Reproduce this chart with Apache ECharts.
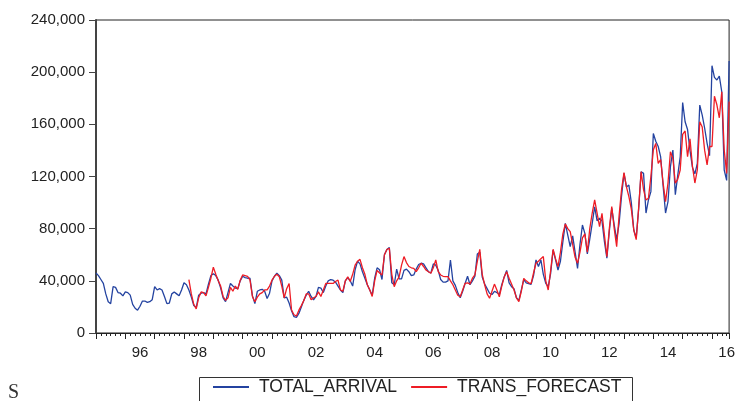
<!DOCTYPE html>
<html>
<head>
<meta charset="utf-8">
<script src="https://cdn.jsdelivr.net/npm/echarts@6/dist/echarts.min.js"></script>
<style>
  html, body { margin: 0; padding: 0; background: #fff; }
  #main { width: 738px; height: 401px; }
</style>
</head>
<body>
<div id="main"></div>
<script>
// monthly series, first month = 1995M01
const startYear = 1995;
const totalArrival = [
  46000, 44000, 41000, 38000, 30000, 24000, 22500, 35500, 35000, 31000, 30500, 28500,
  31500, 31000, 29000, 22000, 19000, 17500, 20500, 24500, 24500, 23500, 24000, 25500,
  35500, 33000, 34000, 33000, 28000, 22500, 23000, 30000, 31500, 30000, 28500, 33000,
  38500, 37000, 33000, 27500, 21000, 19500, 29000, 30500, 31000, 30000, 37500, 44000,
  45500, 44000, 40500, 34500, 27000, 24000, 31000, 38000, 36000, 34500, 34000, 40000,
  43500, 42500, 42000, 42000, 28500, 22500, 32000, 33000, 33500, 32000, 26500, 30500,
  40000, 43500, 45800, 44000, 40500, 27000, 27500, 23000, 17000, 12500, 12000, 15000,
  20000, 25000, 29000, 32000, 28000, 25500, 28000, 35000, 34500, 31000, 36000, 40000,
  41000, 40500, 39000, 36000, 33000, 31000, 40000, 42500, 40000, 36000, 48500, 55000,
  53000, 47000, 42000, 37000, 33000, 29000, 42000, 50000, 48500, 41000, 60000, 64000,
  65500, 38500, 37000, 49000, 41500, 41500, 48000, 49000, 47000, 44000, 44500, 49000,
  52500, 53500, 53000, 50000, 47000, 46000, 53000, 52000, 48000, 41000, 39000, 39000,
  40000, 56000, 40000, 36500, 31000, 27000, 32000, 38000, 43500, 37000, 40000, 43500,
  60500, 62000, 43000, 37500, 34000, 30500, 29500, 32000, 31000, 29500, 37000, 43000,
  48000, 38500, 35500, 34000, 27000, 25000, 33000, 41000, 38500, 37800, 37300, 44000,
  56000, 51000, 56000, 45000, 38000, 35500, 45800, 63600, 56000, 48300, 55000, 70000,
  84000, 75000, 66200, 74400, 62000, 49600, 68000, 82800, 76400, 60600, 72000, 84000,
  96800, 86000, 88000, 86000, 70000, 57300, 78000, 95600, 83000, 71600, 84000, 105000,
  122400, 112000, 113500, 100000, 79000, 73000, 95000, 123700, 122400, 92000, 102000, 108400,
  153000, 147000, 143000, 135000, 113000, 92000, 100700, 127500, 140300, 106000, 121000, 135000,
  176700, 162000, 156000, 140000, 127000, 122000, 130000, 174800, 167100, 157000, 145400, 136000,
  205000, 196000, 194000, 197000, 185000, 125000, 117000, 208500
];
// forecast starts at 1998M03 (index 38)
const forecastStart = 38;
const transForecast = [
  41000, 30000, 22000, 18500, 27000, 31500, 31000, 28500, 35000, 42000,
  50500, 45000, 40000, 36000, 28000, 25000, 27000, 35000, 32000, 36000, 33500, 40500,
  44500, 44000, 43500, 40500, 28000, 24000, 27500, 30000, 31000, 33000, 33000, 36000,
  40500, 43500, 45000, 43000, 36000, 27000, 34000, 38000, 17600, 14000, 13000, 17500,
  21000, 24800, 30000, 30000, 25500, 27000, 28000, 31500, 28000, 33000, 38000, 38000,
  38000, 38000, 39500, 40600, 33000, 32000, 40000, 43000, 39500, 45000, 52000, 55000,
  56500, 50000, 45000, 37000, 33000, 28000, 40000, 48000, 46000, 44500, 60000, 64000,
  65000, 45000, 35500, 40000, 43000, 52000, 58600, 54000, 51000, 50000, 49600, 47000,
  50000, 53500, 51000, 48300, 47000, 45800, 50000, 56000, 47000, 44500, 43500, 43200,
  43200, 40000, 37000, 33000, 29000, 27800, 33000, 38100, 38500, 37500, 42000, 44500,
  55000, 64200, 45000, 37000, 30000, 26600, 32000, 37500, 33000, 27800, 36000, 43000,
  47000, 42000, 37500, 33000, 27000, 24000, 32000, 41900, 40000, 38500, 37800, 46000,
  53500, 55000, 57000, 58600, 40000, 33000, 48000, 64200, 57000, 50900, 62000, 76000,
  83600, 80000, 77700, 68000, 58000, 53500, 62000, 73000, 76000, 62000, 80000, 92000,
  102000, 92000, 81500, 91800, 75000, 58600, 80000, 97000, 80000, 66200, 90000, 110000,
  123000, 112000, 104600, 95000, 79000, 71600, 96000, 123700, 110000, 102000, 103300, 120000,
  140300, 145400, 130000, 133000, 115000, 100700, 115000, 139000, 134000, 114800, 118000, 125000,
  152300, 154900, 135200, 148900, 128000, 115000, 125000, 162000, 157900, 140000, 128900, 143100,
  143000, 181500, 175000, 165000, 185000, 140300, 122400, 177400
];
const yTicks = [0, 40000, 80000, 120000, 160000, 200000, 240000];
const seriesNames = ['TOTAL_ARRIVAL', 'TRANS_FORECAST'];

const xOf = i => startYear + i / 12;
const xMax = xOf(totalArrival.length - 1);
const arrivalData = totalArrival.map((v, i) => [xOf(i), v]);
const forecastData = transForecast.map((v, i) => [xOf(i + forecastStart), v]);

const font = '"Liberation Sans", Arial, sans-serif';
const textColor = '#222';

const chart = echarts.init(document.getElementById('main'));
chart.setOption({
  animation: false,
  grid: {
    left: 96, right: 4, top: 20, bottom: 68,
    show: true, borderColor: '#222', borderWidth: 1
  },
  xAxis: [{
    // labels under the middle of every second year
    type: 'value', min: startYear, max: xMax, interval: 0.5,
    axisLine: { show: true, lineStyle: { color: '#222', width: 1 } },
    axisTick: { show: false },
    splitLine: { show: false },
    axisLabel: {
      showMinLabel: false, showMaxLabel: false,
      margin: 12, color: textColor, fontFamily: font, fontSize: 15,
      formatter: v => {
        const y = Math.floor(v);
        if (v - y === 0.5 && y % 2 === 0) return String(y).slice(2);
        return '';
      }
    }
  }, {
    // year ticks plus minor ticks
    type: 'value', min: startYear, max: xMax, interval: 1, position: 'bottom',
    axisLine: { show: false },
    axisTick: { show: true, inside: false, length: 6, lineStyle: { color: '#222' } },
    minorTick: { show: true, splitNumber: 6, length: 3, lineStyle: { color: '#222' } },
    axisLabel: { show: false },
    splitLine: { show: false }
  }],
  yAxis: {
    type: 'value', min: 0, max: 240000, interval: 40000,
    axisLine: { show: true, lineStyle: { color: '#444', width: 2 } },
    axisTick: { show: true, length: 7, lineStyle: { color: '#444' } },
    splitLine: { show: false },
    axisLabel: {
      margin: 11, color: textColor, fontFamily: font, fontSize: 15,
      formatter: v => yTicks.indexOf(v) >= 0 ? v.toLocaleString('en-US') : ''
    }
  },
  legend: {
    data: seriesNames,
    left: 208, top: 371,
    itemWidth: 36, itemHeight: 2, itemGap: 14,
    icon: 'rect',
    textStyle: { color: textColor, fontFamily: font, fontSize: 17.5, lineHeight: 22, padding: [0, 0, 0, 5] }
  },
  graphic: [
    {
      type: 'rect', silent: true,
      shape: { x: 199.5, y: 377.5, width: 433, height: 40 },
      style: { fill: 'none', stroke: '#333', lineWidth: 1 }
    },
    {
      type: 'text', left: 8, top: 383,
      style: { text: 'S', font: '20px "Liberation Serif", "DejaVu Serif", serif', fill: '#333' }
    }
  ],
  series: [{
    name: seriesNames[0], type: 'line', xAxisIndex: 0,
    data: arrivalData, showSymbol: false, symbol: 'none',
    lineStyle: { color: '#2443a0', width: 1.3 },
    itemStyle: { color: '#2443a0' },
    z: 2
  }, {
    name: seriesNames[1], type: 'line', xAxisIndex: 0,
    data: forecastData, showSymbol: false, symbol: 'none',
    lineStyle: { color: '#ee1c25', width: 1.3 },
    itemStyle: { color: '#ee1c25' },
    z: 3
  }]
});
</script>
</body>
</html>
